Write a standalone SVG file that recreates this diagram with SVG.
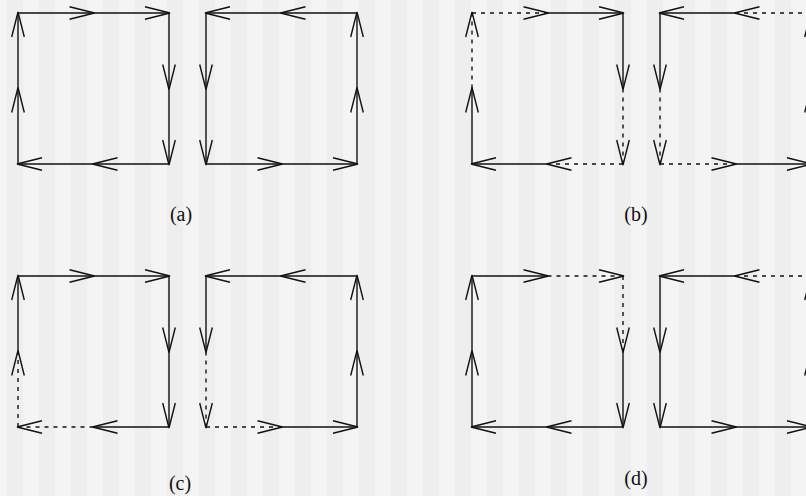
<svg xmlns="http://www.w3.org/2000/svg" width="806" height="496" viewBox="0 0 806 496">
<defs>
<pattern id="stripes" x="7" y="0" width="32" height="496" patternUnits="userSpaceOnUse">
<rect x="0" y="0" width="16" height="496" fill="#eeeeee"/>
<rect x="16" y="0" width="16" height="496" fill="#f4f4f4"/>
</pattern>
<marker id="ah" markerUnits="userSpaceOnUse" markerWidth="30" markerHeight="16" viewBox="-27 -8 30 16" refX="-1" refY="0" orient="auto" overflow="visible">
<path d="M-25,-6.3 L0,0 L-25,6.3" fill="none" stroke="#111111" stroke-width="1.4"/>
</marker>
<style>
line{stroke:#111111;stroke-width:1.4;fill:none;marker-end:url(#ah)}
.d{stroke-dasharray:4 5}
text{font-family:"Liberation Serif","Times New Roman",serif;font-size:20px;fill:#111111;text-anchor:middle}
</style>
</defs>
<rect x="0" y="0" width="806" height="496" fill="url(#stripes)"/>
<g id="connectors">
<g id="a1">
<line x1="18" y1="13" x2="93.5" y2="13"/><line x1="93.5" y1="13" x2="169" y2="13"/>
<line x1="169" y1="13" x2="169" y2="88.5"/><line x1="169" y1="88.5" x2="169" y2="164"/>
<line x1="169" y1="164" x2="93.5" y2="164"/><line x1="93.5" y1="164" x2="18" y2="164"/>
<line x1="18" y1="164" x2="18" y2="88.5"/><line x1="18" y1="88.5" x2="18" y2="13"/>
</g>
<g id="a2">
<line x1="357" y1="13" x2="281.5" y2="13"/><line x1="281.5" y1="13" x2="206" y2="13"/>
<line x1="206" y1="13" x2="206" y2="88.5"/><line x1="206" y1="88.5" x2="206" y2="164"/>
<line x1="206" y1="164" x2="281.5" y2="164"/><line x1="281.5" y1="164" x2="357" y2="164"/>
<line x1="357" y1="164" x2="357" y2="88.5"/><line x1="357" y1="88.5" x2="357" y2="13"/>
</g>
<g id="b1">
<line class="d" x1="472" y1="13" x2="547.5" y2="13"/><line x1="547.5" y1="13" x2="623" y2="13"/>
<line x1="623" y1="13" x2="623" y2="88.5"/><line class="d" x1="623" y1="88.5" x2="623" y2="164"/>
<line class="d" x1="623" y1="164" x2="547.5" y2="164"/><line x1="547.5" y1="164" x2="472" y2="164"/>
<line x1="472" y1="164" x2="472" y2="88.5"/><line class="d" x1="472" y1="88.5" x2="472" y2="13"/>
</g>
<g id="b2">
<line class="d" x1="811" y1="13" x2="735.5" y2="13"/><line x1="735.5" y1="13" x2="660" y2="13"/>
<line x1="660" y1="13" x2="660" y2="88.5"/><line class="d" x1="660" y1="88.5" x2="660" y2="164"/>
<line class="d" x1="660" y1="164" x2="735.5" y2="164"/><line x1="735.5" y1="164" x2="811" y2="164"/>
<line x1="811" y1="164" x2="811" y2="88.5"/><line class="d" x1="811" y1="88.5" x2="811" y2="13"/>
</g>
<g id="c1">
<line x1="18" y1="276" x2="93.5" y2="276"/><line x1="93.5" y1="276" x2="169" y2="276"/>
<line x1="169" y1="276" x2="169" y2="351.5"/><line x1="169" y1="351.5" x2="169" y2="427"/>
<line x1="169" y1="427" x2="93.5" y2="427"/><line class="d" x1="93.5" y1="427" x2="18" y2="427"/>
<line class="d" x1="18" y1="427" x2="18" y2="351.5"/><line x1="18" y1="351.5" x2="18" y2="276"/>
</g>
<g id="c2">
<line x1="357" y1="276" x2="281.5" y2="276"/><line x1="281.5" y1="276" x2="206" y2="276"/>
<line x1="206" y1="276" x2="206" y2="351.5"/><line class="d" x1="206" y1="351.5" x2="206" y2="427"/>
<line class="d" x1="206" y1="427" x2="281.5" y2="427"/><line x1="281.5" y1="427" x2="357" y2="427"/>
<line x1="357" y1="427" x2="357" y2="351.5"/><line x1="357" y1="351.5" x2="357" y2="276"/>
</g>
<g id="d1">
<line x1="472" y1="276" x2="547.5" y2="276"/><line class="d" x1="547.5" y1="276" x2="623" y2="276"/>
<line class="d" x1="623" y1="276" x2="623" y2="351.5"/><line x1="623" y1="351.5" x2="623" y2="427"/>
<line x1="623" y1="427" x2="547.5" y2="427"/><line x1="547.5" y1="427" x2="472" y2="427"/>
<line x1="472" y1="427" x2="472" y2="351.5"/><line x1="472" y1="351.5" x2="472" y2="276"/>
</g>
<g id="d2">
<line class="d" x1="811" y1="276" x2="735.5" y2="276"/><line x1="735.5" y1="276" x2="660" y2="276"/>
<line x1="660" y1="276" x2="660" y2="351.5"/><line x1="660" y1="351.5" x2="660" y2="427"/>
<line x1="660" y1="427" x2="735.5" y2="427"/><line x1="735.5" y1="427" x2="811" y2="427"/>
<line x1="811" y1="427" x2="811" y2="351.5"/><line class="d" x1="811" y1="351.5" x2="811" y2="276"/>
</g>
</g>
<g id="labels">
<text x="181" y="221">(a)</text>
<text x="636" y="221">(b)</text>
<text x="180" y="490">(c)</text>
<text x="636" y="485">(d)</text>
</g>
</svg>
